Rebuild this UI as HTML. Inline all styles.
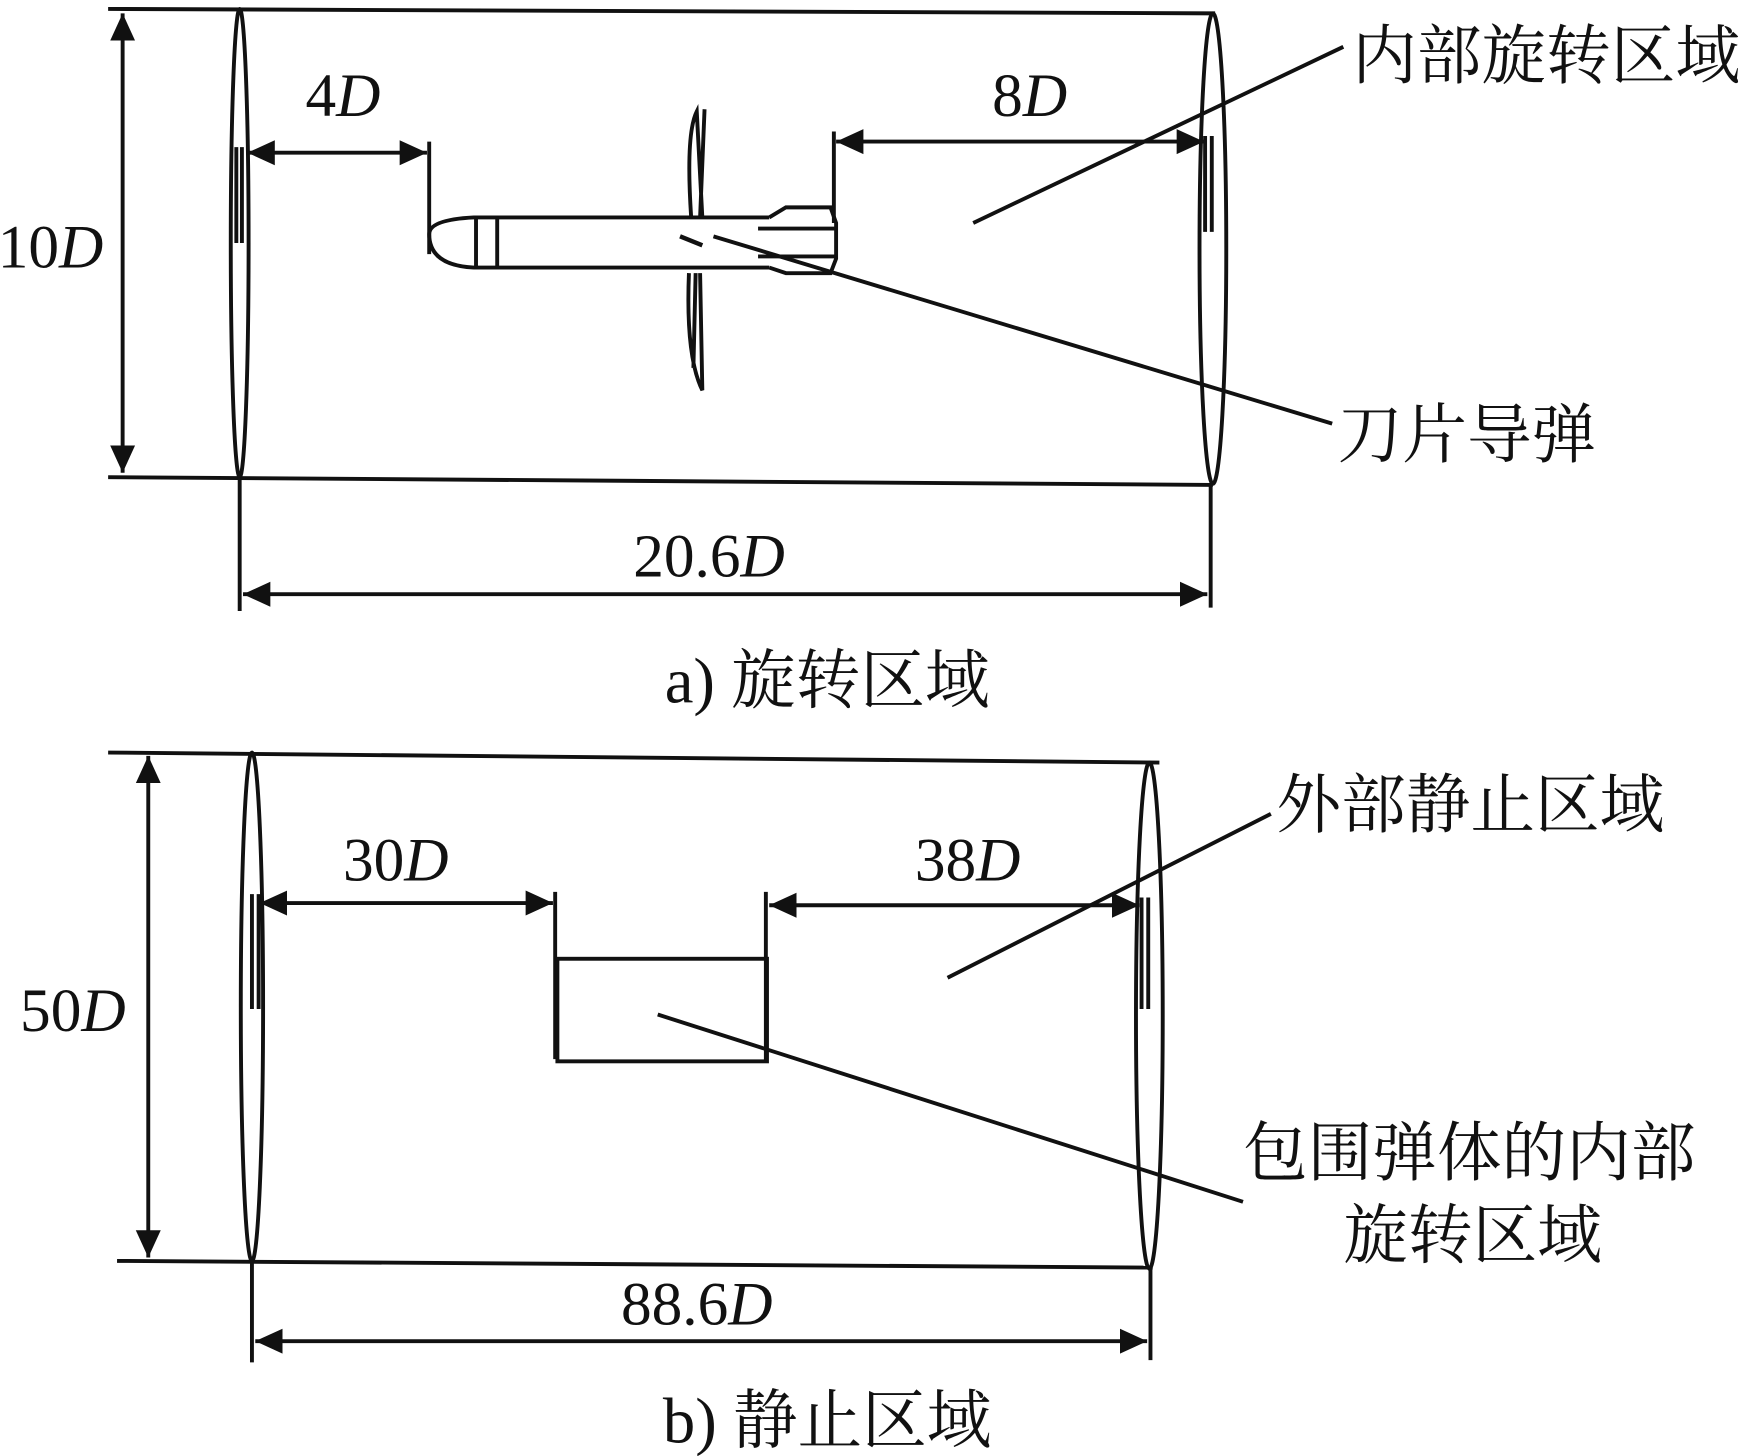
<!DOCTYPE html>
<html><head><meta charset="utf-8"><style>
html,body{margin:0;padding:0;background:#fff}
svg{display:block}
text{font-family:"Liberation Serif","Noto Serif CJK SC",serif;fill:#111}
</style></head><body>
<svg width="1748" height="1456" viewBox="0 0 1568 1306" preserveAspectRatio="none" xmlns="http://www.w3.org/2000/svg">
<defs>
<marker id="a" markerWidth="8" markerHeight="8" refX="7" refY="4" orient="auto-start-reverse" markerUnits="strokeWidth"><path d="M0,0.8 L7,4 L0,7.2 z" fill="#111"/></marker>
</defs>
<g stroke="#111" stroke-width="3.5" fill="none">
<!-- top panel -->
<line x1="97" y1="8" x2="1090" y2="12"/>
<line x1="97" y1="428" x2="1088" y2="435"/>
<ellipse cx="215" cy="218" rx="8" ry="210"/>
<ellipse cx="1088" cy="223" rx="12" ry="211"/>
<line x1="212" y1="132" x2="212" y2="218"/><line x1="217" y1="132" x2="217" y2="218"/>
<line x1="1081" y1="122" x2="1081" y2="208"/><line x1="1087" y1="122" x2="1087" y2="208"/>
<line x1="110" y1="12" x2="110" y2="424" marker-start="url(#a)" marker-end="url(#a)"/>
<line x1="222" y1="137" x2="383" y2="137" marker-start="url(#a)" marker-end="url(#a)"/>
<line x1="385" y1="127" x2="385" y2="228"/>
<line x1="750" y1="127" x2="1080" y2="127" marker-start="url(#a)" marker-end="url(#a)"/>
<line x1="748" y1="118" x2="748" y2="200"/>
<!-- missile -->
<path d="M385,210 Q385,197 425,195 L690,195 M385,210 Q385,238 425,240 L690,240"/>
<line x1="427" y1="196" x2="427" y2="240"/><line x1="446" y1="196" x2="446" y2="240"/>
<path d="M690,195 L705,186 L745,186 L750,200 L750,232 L745,245 L705,245 L690,240"/>
<line x1="680" y1="205" x2="750" y2="205"/><line x1="680" y1="230" x2="750" y2="230"/>
<path d="M620,195 Q615,120 625,100 L630,195 M632,98 L628,195" />
<path d="M618,245 Q615,320 630,350 L628,245 M624,245 L622,330"/>
<line x1="610" y1="212" x2="630" y2="220" stroke-width="4"/>
<line x1="873" y1="200" x2="1205" y2="42"/>
<line x1="640" y1="212" x2="1195" y2="380"/>
<line x1="215" y1="428" x2="215" y2="548"/>
<line x1="1086" y1="434" x2="1086" y2="545"/>
<line x1="218" y1="533" x2="1083" y2="533" marker-start="url(#a)" marker-end="url(#a)"/>
<!-- bottom panel -->
<line x1="97" y1="675" x2="1040" y2="684"/>
<line x1="105" y1="1131" x2="1034" y2="1137"/>
<ellipse cx="226" cy="903" rx="10" ry="228"/>
<ellipse cx="1031" cy="911" rx="12" ry="227"/>
<line x1="226" y1="802" x2="226" y2="905"/><line x1="232" y1="802" x2="232" y2="905"/>
<line x1="1024" y1="805" x2="1024" y2="905"/><line x1="1030" y1="805" x2="1030" y2="905"/>
<line x1="133" y1="678" x2="133" y2="1128" marker-start="url(#a)" marker-end="url(#a)"/>
<line x1="233" y1="810" x2="496" y2="810" marker-start="url(#a)" marker-end="url(#a)"/>
<line x1="498" y1="800" x2="498" y2="950"/>
<line x1="690" y1="812" x2="1022" y2="812" marker-start="url(#a)" marker-end="url(#a)"/>
<line x1="687" y1="800" x2="687" y2="952"/>
<rect x="500" y="860" width="188" height="92"/>
<line x1="850" y1="877" x2="1140" y2="730"/>
<line x1="590" y1="910" x2="1115" y2="1078"/>
<line x1="226" y1="1131" x2="226" y2="1222"/>
<line x1="1032" y1="1137" x2="1032" y2="1220"/>
<line x1="229" y1="1203" x2="1029" y2="1203" marker-start="url(#a)" marker-end="url(#a)"/>
</g>
<g font-size="55">
<text x="-2" y="240">10<tspan font-style="italic">D</tspan></text>
<text x="274" y="104">4<tspan font-style="italic">D</tspan></text>
<text x="890" y="104">8<tspan font-style="italic">D</tspan></text>
<text x="636" y="517" text-anchor="middle">20.6<tspan font-style="italic">D</tspan></text>
<text x="18" y="925">50<tspan font-style="italic">D</tspan></text>
<text x="355" y="790" text-anchor="middle">30<tspan font-style="italic">D</tspan></text>
<text x="868" y="790" text-anchor="middle">38<tspan font-style="italic">D</tspan></text>
<text x="625" y="1188" text-anchor="middle">88.6<tspan font-style="italic">D</tspan></text>
</g>
<g font-size="58">
<text x="1213" y="70">内部旋转区域</text>
<text x="1200" y="410">刀片导弹</text>
<text x="1145" y="742">外部静止区域</text>
<text x="1115" y="1054">包围弹体的内部</text>
<text x="1205" y="1128">旋转区域</text>
<text x="742" y="630" text-anchor="middle">a) 旋转区域</text>
<text x="742" y="1294" text-anchor="middle">b) 静止区域</text>
</g>
</svg>
</body></html>
